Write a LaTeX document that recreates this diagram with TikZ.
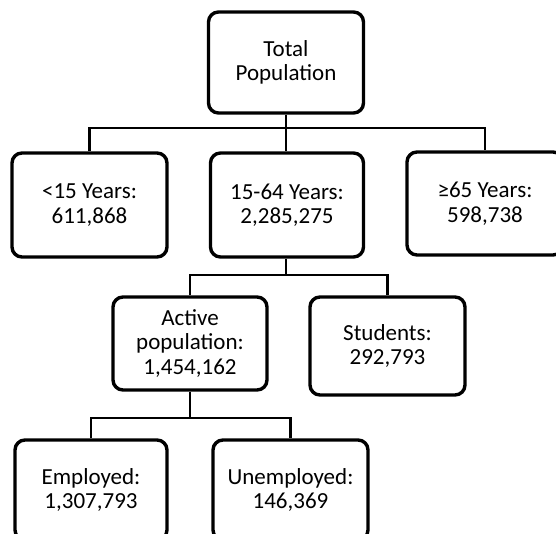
\documentclass[tikz,border=0pt]{standalone}
\usepackage{fontspec}
\setmainfont{Carlito}
\begin{document}
\begin{tikzpicture}[x=1pt,y=-1pt,
  box/.style={draw=black, line width=3.4pt, rounded corners=10pt, fill=white,
    align=center, inner sep=0pt, font=\fontsize{23}{24.5}\selectfont, text=black},
  conn/.style={draw=black, line width=2.2pt}]
\useasboundingbox (0,0) rectangle (556,534);
\clip (0,0) rectangle (556,534);
\node[box, minimum width=155pt, minimum height=101pt] (top) at (286,62.5) {Total\\Population};
\node[box, minimum width=155pt, minimum height=104pt] (lt) at (89.5,205) {<15 Years:\\611,868};
\node[box, minimum width=153pt, minimum height=104pt] (mid) at (287,205) {15-64 Years:\\2,285,275};
\node[box, minimum width=156pt, minimum height=103pt] (rt) at (485,203.5) {≥65 Years:\\598,738};
\node[box, minimum width=154pt, minimum height=93pt] (act) at (190,343.5) {Active\\population:\\1,454,162};
\node[box, minimum width=155pt, minimum height=98pt] (stu) at (387.5,346) {Students:\\292,793};
\node[box, minimum width=152pt, minimum height=100pt] (emp) at (91,490) {Employed:\\1,307,793};
\node[box, minimum width=155pt, minimum height=100pt] (une) at (290.5,490) {Unemployed:\\146,369};
\coordinate (j1) at (286,128);
\coordinate (j2) at (286,275);
\coordinate (j3) at (190,418);
\draw[conn] (top.south) -- (j1);
\draw[conn] (lt.north) |- (j1) -| (rt.north);
\draw[conn] (j1) -- (j1 |- mid.north);
\draw[conn] (j2 |- mid.south) -- (j2);
\draw[conn] (act.north) |- (j2) -| (stu.north);
\draw[conn] (act.south) -- (j3);
\draw[conn] (emp.north) |- (j3) -| (une.north);
\end{tikzpicture}
\end{document}
